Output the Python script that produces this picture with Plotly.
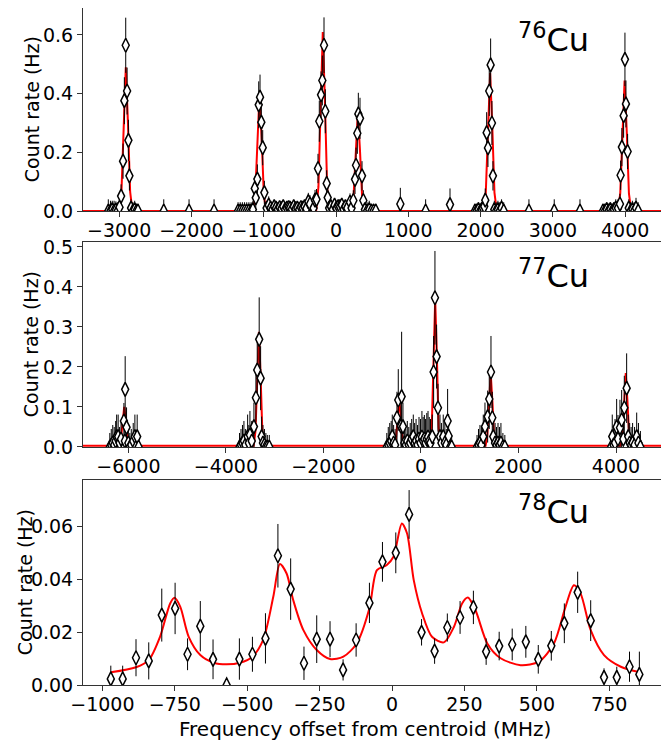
import plotly.graph_objects as go
from plotly.subplots import make_subplots

# ---- 76Cu ----
cu76_x = [-3150, -3120, -3095, -3070, -3045, -3020, -2995, -2973, -2946, -2928, -2909, -2890, -2872, -2858,
          -2835, -2810, -2785, -2760, -2740, -2383, -2033, -1687,
          -1355, -1325, -1295, -1265, -1235, -1205, -1175, -1150,
          -1124, -1110, -1088, -1069, -1051, -1033, -1014, -991, -960, -931,
          -905, -880, -855, -830, -805, -780, -755, -730, -705, -680, -655, -636, -610, -585, -560, -535,
          -510, -485, -460, -435, -410, -383, -360, -311, -290, -270,
          -249, -231, -207, -189, -166, -148, -129, -115,
          -95, -70, -45, -20, 5, 30, 55, 80, 105, 130, 155, 194, 215,
          240, 263, 277, 295, 309, 332, 360, 378, 400, 430, 460, 490, 520, 550,
          890, 1240, 1577,
          1922, 1945, 1970, 1995, 2015, 2033, 2051, 2065, 2084, 2102, 2120, 2139, 2157, 2171,
          2190, 2215, 2240, 2265, 2290, 2320, 2669, 3019, 3375,
          3693, 3720, 3745, 3770, 3795, 3820, 3845, 3870, 3900,
          3928, 3937, 3955, 3979, 3997, 4011, 4034, 4050, 4075, 4100, 4125, 4150, 4180]
cu76_y = [0, 0, 0.005, 0, 0.003, 0, 0.013, 0.051, 0.170, 0.376, 0.565, 0.409, 0.241, 0.120,
          0.010, 0, 0.005, 0, 0, 0, 0, 0,
          0, 0, 0, 0, 0, 0, 0, 0.005,
          0.077, 0.045, 0.109, 0.362, 0.388, 0.303, 0.216, 0.063, 0.010, 0.020,
          0.010, 0.005, 0.015, 0.010, 0.005, 0.012, 0.008, 0.015, 0.005, 0.010, 0.012, 0.010, 0.006, 0.015,
          0.008, 0.010, 0.005, 0.012, 0.010, 0.015, 0.008, 0.032, 0.024, 0.010, 0.037, 0.040,
          0.145, 0.306, 0.396, 0.445, 0.565, 0.340, 0.094, 0.046,
          0.010, 0.015, 0.005, 0.020, 0.010, 0.015, 0.015, 0.020, 0.005, 0.015, 0.010, 0.030, 0.010,
          0.036, 0.108, 0.156, 0.265, 0.331, 0.316, 0.120, 0.036, 0.005, 0, 0.005, 0, 0, 0,
          0.024, 0, 0.022,
          0, 0, 0.005, 0, 0.005, 0.010, 0.016, 0.037, 0.267, 0.215, 0.409, 0.498, 0.300, 0.120,
          0.005, 0, 0.005, 0, 0.010, 0, 0, 0, 0,
          0, 0, 0.005, 0, 0.005, 0, 0.005, 0.010, 0.010,
          0.024, 0.122, 0.218, 0.325, 0.517, 0.365, 0.203, 0.010, 0, 0.005, 0, 0.010, 0]
cu76_err = [0.04, 0.035, 0.03, 0.035, 0.03, 0.03, 0.03, 0.04, 0.06, 0.08, 0.094, 0.08, 0.07, 0.05,
            0.03, 0.03, 0.03, 0.025, 0.025, 0.04, 0.04, 0.04,
            0.03, 0.03, 0.03, 0.03, 0.03, 0.03, 0.03, 0.03,
            0.04, 0.035, 0.05, 0.08, 0.077, 0.07, 0.06, 0.04, 0.02, 0.03,
            0.015, 0.012, 0.015, 0.015, 0.012, 0.015, 0.012, 0.015, 0.012, 0.015, 0.015, 0.02, 0.012, 0.015,
            0.012, 0.015, 0.012, 0.015, 0.015, 0.015, 0.015, 0.03, 0.03, 0.02, 0.035, 0.035,
            0.05, 0.07, 0.08, 0.085, 0.095, 0.075, 0.045, 0.035,
            0.015, 0.015, 0.012, 0.02, 0.015, 0.015, 0.015, 0.02, 0.012, 0.015, 0.015, 0.03, 0.015,
            0.035, 0.05, 0.06, 0.07, 0.072, 0.07, 0.05, 0.035, 0.03, 0.03, 0.03, 0.025, 0.025, 0.025,
            0.055, 0.04, 0.055,
            0.025, 0.025, 0.025, 0.025, 0.025, 0.03, 0.03, 0.04, 0.07, 0.065, 0.085, 0.09, 0.075, 0.05,
            0.03, 0.03, 0.03, 0.03, 0.03, 0.03, 0.04, 0.04, 0.04,
            0.025, 0.025, 0.025, 0.025, 0.025, 0.025, 0.025, 0.03, 0.03,
            0.035, 0.05, 0.065, 0.075, 0.091, 0.08, 0.06, 0.03, 0.03, 0.03, 0.03, 0.035, 0.03]
fit76_x = [-3500, -3000, -2968, -2938, -2908, -2878, -2848, -2816,
           -1150, -1118, -1088, -1058, -1028, -998, -966,
           -275, -243, -213, -183, -153, -123, -91,
           210, 242, 272, 302, 332, 362, 394,
           2040, 2072, 2102, 2132, 2162, 2192, 2224,
           3900, 3932, 3962, 3992, 4022, 4052, 4084, 4565]
fit76_y = [0, 0, 0.066, 0.30, 0.49, 0.30, 0.066, 0,
           0, 0.054, 0.244, 0.40, 0.244, 0.054, 0,
           0, 0.082, 0.372, 0.61, 0.372, 0.082, 0,
           0, 0.045, 0.204, 0.335, 0.204, 0.045, 0,
           0, 0.063, 0.287, 0.47, 0.287, 0.063, 0,
           0, 0.06, 0.271, 0.445, 0.271, 0.06, 0, 0]

# ---- 77Cu ----
cu77_x = [-6380, -6350, -6320, -6290, -6260, -6240, -6209, -6180, -6150, -6091, -6071, -6065, -6037,
          -6000, -5970, -5940, -5900, -5866, -5840, -5819, -5790,
          -3720, -3690, -3660, -3630, -3600, -3554, -3530, -3507, -3470, -3425, -3384, -3357, -3317,
          -3288, -3267, -3240, -3210, -3180, -3150, -3110,
          -700, -670, -640, -610, -588, -560, -530, -492, -465, -410, -396, -369, -340, -310, -280,
          -250, -220, -190, -157, -130, -100, -70, -40, -10, 20, 45, 70, 95, 120, 145, 170, 195,
          232, 260, 287, 321, 349, 390, 420, 457, 490, 520, 547, 567, 600, 630,
          1150, 1180, 1210, 1240, 1278, 1313, 1368, 1401, 1436, 1463, 1483, 1520, 1550, 1580, 1610,
          1640, 1680, 1720,
          3900, 3923, 3950, 3980, 4013, 4040, 4081, 4116, 4150, 4170, 4218, 4251, 4280, 4310, 4340,
          4380, 4424, 4460, 4500]
cu77_y = [0, 0.005, 0.010, 0.005, 0.015, 0.026, 0.026, 0.010, 0.020, 0.065, 0.015, 0.144, 0.049,
          0.010, 0, 0.005, 0.015, 0.026, 0, 0.026, 0,
          0, 0.005, 0.010, 0.015, 0.005, 0.026, 0.010, 0.030, 0.015, 0.051, 0.123, 0.1925, 0.269,
          0.172, 0.026, 0.010, 0.005, 0, 0, 0,
          0, 0.005, 0.010, 0.015, 0.026, 0.010, 0.005, 0.073, 0.1175, 0.052, 0.126, 0.051, 0.010, 0.005, 0.015,
          0.005, 0.010, 0.020, 0.026, 0.010, 0.015, 0.005, 0.020, 0.010, 0.025, 0.015, 0.020, 0.010, 0.020,
          0.025, 0.015, 0.010,
          0.026, 0.1875, 0.373, 0.226, 0.098, 0.026, 0.010, 0.026, 0.010, 0.005, 0.065, 0.0275, 0, 0,
          0, 0.005, 0.010, 0.005, 0.026, 0.051, 0.076, 0.120, 0.1875, 0.073, 0.026, 0.010, 0.005, 0.010,
          0.005, 0.010, 0, 0,
          0, 0.026, 0.005, 0.010, 0.050, 0.020, 0.048, 0.0675, 0.020, 0.098, 0.147, 0.026, 0.010, 0.005,
          0.010, 0.005, 0.026, 0.010, 0]
cu77_err = [0.035, 0.04, 0.045, 0.045, 0.05, 0.055, 0.055, 0.04, 0.045, 0.045, 0.04, 0.083, 0.05,
            0.04, 0.035, 0.04, 0.045, 0.055, 0.03, 0.055, 0.03,
            0.035, 0.04, 0.045, 0.05, 0.04, 0.055, 0.045, 0.06, 0.05, 0.06, 0.06, 0.08, 0.105,
            0.08, 0.05, 0.045, 0.04, 0.035, 0.03, 0.03,
            0.035, 0.045, 0.05, 0.05, 0.055, 0.045, 0.04, 0.065, 0.077, 0.06, 0.162, 0.06, 0.045, 0.04, 0.05,
            0.045, 0.05, 0.05, 0.055, 0.05, 0.055, 0.05, 0.055, 0.06, 0.065, 0.06, 0.06, 0.06, 0.065,
            0.065, 0.06, 0.06,
            0.055, 0.09, 0.117, 0.08, 0.06, 0.055, 0.05, 0.055, 0.05, 0.04, 0.08, 0.055, 0.035, 0.03,
            0.03, 0.04, 0.045, 0.045, 0.055, 0.06, 0.065, 0.075, 0.09, 0.065, 0.055, 0.05, 0.045, 0.05,
            0.045, 0.05, 0.035, 0.03,
            0.03, 0.055, 0.045, 0.06, 0.07, 0.06, 0.07, 0.075, 0.06, 0.08, 0.087, 0.055, 0.05, 0.045,
            0.05, 0.045, 0.06, 0.05, 0.04]
fit77_x = [-6930, -6190, -6155, -6120, -6085, -6050, -6015, -5980,
           -3430, -3393, -3358, -3323, -3288, -3253, -3216,
           -550, -515, -480, -445, -410, -375, -340,
           185, 222, 257, 292, 327, 362, 399,
           1325, 1360, 1395, 1430, 1465, 1500, 1535,
           4095, 4130, 4165, 4200, 4235, 4270, 4305, 5025]
fit77_y = [0.003, 0.003, 0.016, 0.063, 0.100, 0.063, 0.016, 0.003,
           0.003, 0.040, 0.177, 0.288, 0.177, 0.040, 0.003,
           0.003, 0.018, 0.073, 0.118, 0.073, 0.018, 0.003,
           0.003, 0.050, 0.225, 0.368, 0.225, 0.050, 0.003,
           0.003, 0.027, 0.114, 0.185, 0.114, 0.027, 0.003,
           0.003, 0.027, 0.114, 0.185, 0.114, 0.027, 0.003, 0.003]

# ---- 78Cu ----
cu78_x = [-971, -930, -884, -840, -795, -749, -706, -662, -618, -571, -527, -482, -437, -394, -350,
          -304, -260, -214, -169, -124, -78, -33, 13, 59, 102, 147, 191, 235, 281, 325, 370, 415,
          462, 505, 550, 595, 641, 686, 732, 776, 820, 854]
cu78_y = [0.0023, 0.0023, 0.0103, 0.0091, 0.0264, 0.0289, 0.0116, 0.0222, 0.0097, 0.0, 0.0098,
          0.0116, 0.0176, 0.0488, 0.0362, 0.0082, 0.0173, 0.0173, 0.0057, 0.0170, 0.0310, 0.0465,
          0.0499, 0.0644, 0.0199, 0.0128, 0.0217, 0.0255, 0.0293, 0.0126, 0.0147, 0.0153, 0.0163,
          0.0097, 0.0148, 0.0233, 0.0350, 0.0243, 0.0029, 0.0029, 0.0069, 0.0040]
cu78_err = [0.005, 0.005, 0.007, 0.007, 0.010, 0.0097, 0.006, 0.0095, 0.0075, 0.0031, 0.0078,
            0.0066, 0.0095, 0.012, 0.0116, 0.0063, 0.009, 0.0068, 0.004, 0.0063, 0.0076, 0.0075,
            0.0077, 0.0092, 0.005, 0.0048, 0.0053, 0.0062, 0.0063, 0.005, 0.0054, 0.006, 0.006,
            0.0054, 0.0056, 0.0075, 0.0078, 0.0077, 0.0034, 0.004, 0.0057, 0.0086]
fit78_x = [-971, -884, -840, -801, -766, -751, -731, -702, -662, -616, -571, -525, -482, -445,
           -410, -387, -364, -341, -306, -260, -214, -168, -122, -78, -52, -18, 5, 34, 52, 75, 104,
           138, 179, 214, 242, 262, 288, 329, 375, 444, 507, 559, 599, 628, 651, 686, 732, 790, 856]
fit78_y = [0.0048, 0.0067, 0.0094, 0.0182, 0.0308, 0.0329, 0.0295, 0.0182, 0.0113, 0.0084, 0.0078,
           0.0084, 0.0107, 0.0170, 0.0333, 0.0457, 0.0421, 0.0320, 0.0207, 0.0132, 0.0098, 0.0107,
           0.0157, 0.0290, 0.0434, 0.0453, 0.0484, 0.0610, 0.0572, 0.0396, 0.0270, 0.0182, 0.0161,
           0.0220, 0.0308, 0.0330, 0.0283, 0.0157, 0.0101, 0.0075, 0.0088, 0.0157, 0.0295, 0.0377,
           0.0346, 0.0207, 0.0113, 0.0069, 0.0048]

panels = [
    (cu76_x, cu76_y, cu76_err, fit76_x, fit76_y, "76", [-3500, 4565], 1000, [0, 0.692], 0.2, ".1f"),
    (cu77_x, cu77_y, cu77_err, fit77_x, fit77_y, "77", [-6930, 5025], 2000, [0, 0.5125], 0.1, ".1f"),
    (cu78_x, cu78_y, cu78_err, fit78_x, fit78_y, "78", [-1067, 946], 250, [0, 0.0774], 0.02, ".2f"),
]

FONT = "DejaVu Sans"
fig = make_subplots(rows=3, cols=1)
# page body adds an 8 px offset, so margins are set to land the axes where the reference has them
domains = [[0.7001, 1.0], [0.3516, 0.6544], [0.0, 0.3028]]
label_y = [0.965, 0.955, 0.965]
ytitle_x = [-0.088, -0.088, -0.1]

for i, (dx, dy, de, fx, fy, mass, xr, xd, yr, yd, yf) in enumerate(panels):
    row = i + 1
    fig.add_trace(go.Scatter(
        x=fx, y=fy, mode="lines",
        line=dict(color="red", width=2, shape="spline" if row == 3 else "linear", smoothing=0.8),
        showlegend=False, hoverinfo="skip"
    ), row=row, col=1)
    fig.add_trace(go.Scatter(
        x=dx, y=dy, mode="markers",
        marker=dict(symbol="diamond-tall", size=10, color="white",
                    line=dict(color="black", width=1.5)),
        error_y=dict(type="data", array=de, color="black", thickness=1, width=0),
        showlegend=False
    ), row=row, col=1)

    axis_style = dict(showline=True, linecolor="#333", linewidth=1, mirror=True,
                      ticks="outside", ticklen=5, tickcolor="#333", showgrid=False,
                      zeroline=False, automargin=False,
                      tickfont=dict(family=FONT, size=19, color="black"))
    fig.update_xaxes(range=xr, dtick=xd, tick0=0, ticklabelstandoff=-3, **axis_style, row=row, col=1)
    fig.update_yaxes(range=yr, dtick=yd, tick0=0, tickformat=yf, domain=domains[i],
                     **axis_style, row=row, col=1)

    xref = "x domain" if row == 1 else f"x{row} domain"
    yref = "y domain" if row == 1 else f"y{row} domain"
    fig.add_annotation(
        x=0.742, y=label_y[i], xref=xref, yref=yref, showarrow=False,
        xanchor="left", yanchor="top",
        text=f"<sup>{mass}</sup>Cu", font=dict(family=FONT, size=32, color="black")
    )
    # y-axis title, placed like matplotlib does next to each panel's tick labels
    fig.add_annotation(
        x=ytitle_x[i], y=0.5, xref=xref, yref=yref, showarrow=False,
        textangle=-90, xanchor="center", yanchor="middle",
        text="Count rate (Hz)", font=dict(family=FONT, size=19, color="black")
    )

# shared x label under the bottom panel
fig.add_annotation(
    x=0.4837, y=-0.215, xref="x3 domain", yref="y3 domain", showarrow=False,
    xanchor="center", yanchor="middle",
    text="Frequency offset from centroid (MHz)", font=dict(family=FONT, size=20, color="black")
)

fig.update_layout(
    width=669, height=742,
    margin=dict(l=75, r=11, t=0, b=65),
    plot_bgcolor="white", paper_bgcolor="white",
    font=dict(family=FONT, color="black"),
)

fig.write_html("out.html")
